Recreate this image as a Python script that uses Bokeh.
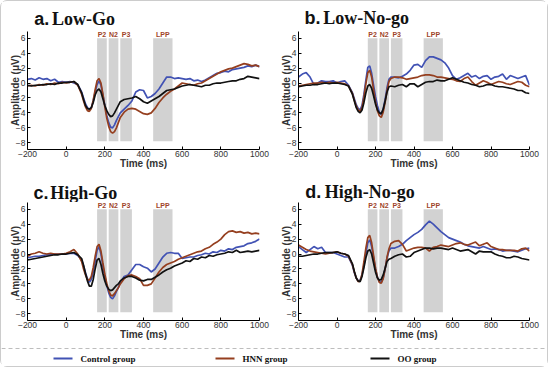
from bokeh.plotting import figure
from bokeh.models import ColumnDataSource, Range1d, FixedTicker, Span
from bokeh.layouts import column, row
from bokeh.embed import file_html
from bokeh.resources import INLINE
from bokeh.core.properties import value

# ---------------- data ----------------
time_ms = [-200, -180, -160, -140, -120, -100, -80, -60, -40, -20, 0, 20, 40, 60, 80,
           90, 100, 110, 120, 130, 140, 150, 160, 170, 180, 190, 200, 210, 220, 230, 240, 250, 260, 270, 280,
           300, 320, 340, 360, 380, 400, 420, 440, 460, 480,
           500, 520, 540, 560, 580, 600, 620, 640, 660, 680,
           700, 720, 740, 760, 780, 800, 820, 840, 860, 880,
           900, 920, 940, 960, 980, 1000]

groups = ["Control group", "HNN group", "OO group"]

# a. Low-Go
a_control = [0.5, 0.6, 0.4, 0.7, 0.5, 0.6, 0.3, 0.5, 0.1, 0.2, 0.1, 0.2, 0.0, -0.2, -1.2,
             -2.0, -2.8, -3.3, -3.5, -3.3, -2.4, -1.2, -0.2, 0.3, -0.3, -1.6, -3.0, -4.3, -5.3, -5.9, -6.0, -5.6, -5.0, -4.5, -4.0,
             -3.5, -3.0, -2.4, -1.2, -0.9, -1.0, -2.0, -1.8, -1.4, -0.8,
             0.0, 0.8, 0.8, 0.6, 0.7, 0.6, 0.5, 0.6, 0.3, 0.4,
             0.2, 0.4, 0.7, 1.0, 1.3, 1.4, 1.6, 1.5, 1.8, 1.9,
             2.0, 2.1, 2.3, 2.2, 2.4, 2.2]
a_hnn = [-0.4, -0.3, -0.4, -0.2, -0.3, -0.1, -0.2, 0.0, -0.1, 0.1, 0.0, 0.1, 0.2, -0.3, -1.5,
         -2.4, -3.2, -3.7, -3.8, -3.4, -2.3, -0.9, 0.3, 0.6, 0.0, -1.5, -3.2, -4.7, -5.8, -6.5, -6.7, -6.5, -6.0, -5.3, -4.6,
         -3.9, -3.5, -3.4, -3.5, -3.8, -4.1, -4.2, -4.0, -3.4, -2.6,
         -2.0, -1.5, -1.1, -0.8, -0.4, 0.0, -0.1, -0.2, -0.3, -0.1,
         0.0, 0.3, 0.6, 0.9, 1.2, 1.5, 1.7, 1.9, 2.0, 2.2,
         2.4, 2.6, 2.5, 2.3, 2.4, 2.2]
a_oo = [-0.3, -0.4, -0.3, -0.3, -0.2, -0.2, -0.1, -0.2, 0.0, 0.0, 0.1, 0.1, 0.2, -0.2, -1.3,
        -2.2, -3.0, -3.4, -3.5, -3.3, -2.6, -1.6, -1.0, -0.8, -1.2, -2.1, -3.0, -3.7, -4.2, -4.5, -4.4, -4.0, -3.5, -3.0, -2.5,
        -2.2, -2.1, -2.0, -1.8, -2.1, -2.5, -2.7, -2.4, -2.1, -1.8,
        -1.4, -1.0, -0.9, -0.8, -0.6, -0.4, -0.3, -0.2, -0.3, -0.4,
        -0.5, -0.3, -0.3, -0.1, 0.0, 0.0, 0.1, 0.2, 0.3, 0.3,
        0.5, 0.6, 0.9, 0.8, 0.7, 0.6]

# b. Low-No-go
b_control = [0.8, 1.2, 1.4, 0.8, -0.2, 0.0, 0.3, 0.2, 0.2, 0.3, 0.0, 0.2, 0.3, -0.3, -1.3,
             -2.1, -2.9, -3.4, -3.6, -3.0, -1.5, 0.4, 2.1, 2.3, 1.3, -0.3, -1.8, -3.0, -3.9, -4.2, -3.5, -2.2, -0.6, 0.5, 0.8,
             0.8, 0.7, 0.9, 1.2, 1.7, 2.4, 2.5, 2.1, 3.0, 3.5,
             3.5, 3.3, 3.1, 2.7, 2.0, 1.0, 0.5, 0.7, 1.0, 1.3,
             0.8, 1.0, 0.6, 0.9, 1.0, 0.5, 0.8, 0.9, 1.2, 0.5,
             1.0, 0.8, 0.6, 0.8, 1.0, -0.3]
b_hnn = [-0.4, -0.3, -0.2, -0.1, 0.0, 0.0, 0.1, 0.0, 0.1, 0.0, 0.1, 0.0, -0.1, -0.4, -1.4,
         -2.3, -3.1, -3.6, -3.8, -3.3, -1.9, -0.1, 1.4, 1.7, 0.8, -0.9, -2.5, -3.7, -4.4, -4.6, -3.9, -2.6, -1.0, 0.2, 0.6,
         0.8, 0.8, 0.7, 0.5, 0.6, 0.7, 0.8, 1.0, 1.1, 1.1,
         1.0, 0.8, 0.8, 0.7, 0.6, 0.5, 0.3, 0.2, 0.6, 0.8,
         0.2, -0.3, 0.0, 0.3, 0.1, -0.2, 0.0, 0.2, 0.1, -0.1,
         -0.2, 0.0, 0.2, 0.1, -0.3, -0.5]
b_oo = [-0.5, -0.4, -0.3, -0.3, -0.2, -0.2, -0.1, 0.0, -0.1, 0.0, 0.0, -0.1, -0.2, -0.4, -1.5,
        -2.4, -3.3, -3.8, -4.0, -3.6, -2.6, -1.3, -0.4, -0.2, -0.7, -1.7, -2.8, -3.6, -4.0, -4.1, -3.5, -2.4, -1.2, -0.5, -0.4,
        -0.5, -0.3, -0.2, -0.5, -0.1, -0.1, -0.5, -0.2, 0.1, 0.2,
        0.2, 0.4, 0.3, 0.3, 0.5, 0.7, 0.5, 0.3, 0.1, 0.0,
        -0.2, -0.3, -0.5, -0.4, -0.2, -0.2, -0.4, -0.5, -0.5, -0.6,
        -0.7, -0.8, -1.0, -1.0, -1.3, -1.4]

# c. High-Go
c_control = [-0.5, -0.4, -0.3, -0.3, -0.2, -0.1, -0.1, 0.0, 0.0, 0.0, 0.0, 0.1, 0.1, -0.2, -0.8,
             -1.6, -2.5, -3.3, -3.8, -3.4, -2.4, -1.0, 0.5, 1.0, 0.0, -1.6, -3.0, -4.2, -5.2, -5.8, -6.0, -5.6, -5.0, -4.5, -3.8,
             -3.0, -2.8, -2.1, -1.4, -1.4, -1.7, -1.9, -2.4, -2.0, -1.2,
             -0.4, 0.1, 0.2, 0.1, 0.1, -0.6, -0.5, -0.4, -0.4, -0.2,
             -0.1, 0.1, 0.0, 0.3, 0.2, 0.5, 0.4, 0.7, 0.6, 0.9,
             1.0, 1.1, 1.4, 1.5, 1.7, 2.0]
c_hnn = [-0.3, 0.0, 0.1, 0.3, 0.1, 0.0, 0.1, 0.0, 0.0, 0.0, 0.1, 0.3, 0.6, 0.0, -1.0,
         -2.0, -2.8, -3.4, -3.5, -3.0, -1.8, -0.3, 1.0, 1.3, 0.4, -1.2, -2.7, -3.9, -4.9, -5.5, -5.6, -5.3, -4.9, -4.5, -4.0,
         -3.3, -2.9, -2.8, -3.0, -3.3, -4.2, -4.2, -4.0, -3.2, -2.4,
         -1.8, -1.4, -1.2, -1.0, -0.7, -0.5, -0.3, -0.1, 0.1, 0.3,
         0.4, 0.7, 0.9, 1.3, 1.6, 2.0, 2.6, 3.0, 3.1, 2.9,
         3.0, 2.8, 2.9, 2.7, 2.8, 2.7]
c_oo = [-0.8, -0.7, -0.6, -0.5, -0.4, -0.3, -0.2, -0.1, -0.1, 0.0, 0.0, 0.1, 0.2, -0.1, -0.6,
        -1.5, -2.6, -3.6, -4.3, -4.3, -3.4, -2.0, -0.8, -0.6, -1.4, -2.6, -3.6, -4.3, -4.7, -4.9, -4.8, -4.5, -4.2, -4.0, -3.6,
        -3.2, -3.0, -3.0, -3.2, -3.5, -3.6, -3.4, -3.4, -3.1, -2.8,
        -2.4, -2.1, -1.9, -1.6, -1.4, -1.2, -0.9, -1.0, -0.6, -0.7,
        -0.4, -0.5, -0.2, -0.3, -0.1, 0.0, 0.1, 0.3, 0.2, 0.5,
        0.2, 0.3, 0.4, 0.3, 0.4, 0.5]

# d. High-No-go
d_control = [1.0, 0.6, 0.2, 0.6, 1.0, 0.7, 0.9, 0.2, 0.2, 0.2, 0.0, -0.2, -0.4, -0.4, -1.5,
             -2.5, -3.2, -3.6, -3.5, -2.8, -1.5, 0.0, 1.5, 1.9, 1.0, -0.5, -2.0, -3.1, -3.7, -3.8, -3.2, -2.0, -0.5, 0.4, 0.8,
             0.8, 1.0, 1.3, 1.8, 2.2, 2.6, 2.9, 3.3, 3.9, 4.4,
             4.0, 3.5, 3.0, 2.6, 2.2, 2.0, 1.8, 1.6, 1.3, 1.1,
             1.0, 0.9, 0.8, 1.0, 0.8, 0.6, 0.7, 0.6, 0.4, 0.5,
             0.5, 0.4, 0.3, 0.5, 0.7, 0.8]
d_hnn = [1.2, 0.9, 0.6, 0.4, 0.3, 0.2, 0.1, 0.0, 0.1, 0.2, 0.3, 0.1, 0.0, -0.3, -1.4,
         -2.4, -3.2, -3.7, -3.6, -2.7, -1.0, 0.8, 2.2, 2.5, 1.5, -0.2, -1.9, -3.1, -3.8, -3.9, -3.3, -2.0, -0.4, 0.7, 1.4,
         1.7, 1.8, 1.3, 0.4, 0.6, 0.8, 0.9, 0.9, 0.8, 0.4,
         0.9, 1.0, 1.2, 1.1, 1.0, 1.2, 1.4, 1.5, 1.3, 1.2,
         1.4, 1.6, 1.1, 1.3, 1.5, 1.0, 0.8, 0.6, 0.6, 0.5,
         0.5, 0.5, 0.4, 0.7, 0.8, 0.4]
d_oo = [-0.3, -0.3, -0.2, -0.1, 0.0, 0.0, 0.1, 0.2, 0.2, 0.2, 0.3, 0.1, 0.0, -0.2, -1.3,
        -2.3, -3.2, -3.6, -3.7, -3.0, -1.8, -0.5, 0.4, 0.6, 0.0, -1.2, -2.4, -3.2, -3.5, -3.4, -2.8, -1.9, -1.0, -0.7, -0.6,
        -0.3, -0.1, 0.0, -0.4, -0.3, 0.2, 0.4, 0.6, 0.8, 0.8,
        0.7, 0.8, 0.8, 0.7, 0.6, 0.8, 0.6, 0.4, 0.5, 0.6,
        0.3, 0.0, 0.4, 0.3, 0.3, 0.3, 0.0, -0.2, -0.3, -0.5,
        -0.5, -0.3, -0.4, -0.6, -0.7, -0.8]

comp_names = ["P2", "N2", "P3", "LPP"]
comp_start = [160, 220, 280, 450]
comp_end = [210, 270, 340, 550]
comp_top = [6.0, 6.0, 6.0, 6.0]
comp_bottom = [-7.8, -7.8, -7.8, -7.8]

x_ticks = [-200, 0, 200, 400, 600, 800, 1000]
y_ticks = [-8, -6, -4, -2, 0, 2, 4, 6]

# ---------------- style ----------------
COLORS = ["#4152b4", "#953f1f", "#111111"]
SANS = "Liberation Sans"
SERIF = "Liberation Serif"
PLOT_H = 143

comp_src = ColumnDataSource(dict(name=comp_names, left=comp_start, right=comp_end,
                                 top=comp_top, bottom=comp_bottom,
                                 mid=[(a + b) / 2 for a, b in zip(comp_start, comp_end)]))


def bare_fig(w, h):
    f = figure(width=w, height=h, output_backend="svg", toolbar_location=None,
               x_range=Range1d(0, w), y_range=Range1d(0, h), min_border=0,
               x_axis_location=None, y_axis_location=None)
    f.outline_line_color = None
    f.grid.visible = False
    return f


def title_fig(letter, name, w, h, x1, x2, yb):
    t = bare_fig(w, h)
    t.text(x=[x1], y=[yb], text=[letter], text_font=value(SANS), text_font_style="bold",
           text_font_size="18px", text_color="#111111", text_baseline="alphabetic")
    t.text(x=[x2], y=[yb], text=[name], text_font=value(SERIF), text_font_style="bold",
           text_font_size="18px", text_color="#111111", text_baseline="alphabetic")
    return t


def make_panel(series, w, bl, br):
    p = figure(width=w, height=PLOT_H, output_backend="svg", toolbar_location=None,
               x_range=Range1d(-200, 1000), y_range=Range1d(-8.9, 6.9),
               min_border_left=bl, min_border_right=br, min_border_top=0, min_border_bottom=25)
    p.outline_line_color = None
    p.grid.visible = False

    p.quad(left="left", right="right", top="top", bottom="bottom", source=comp_src,
           fill_color="#d2d2d2", line_color=None)
    p.text(x="mid", y="top", text="name", source=comp_src, text_align="center",
           text_baseline="bottom", text_font_size="7px", text_font_style="bold",
           text_color="#a0452a", text_font=value(SANS))

    src = ColumnDataSource(dict(t=time_ms, c=series[0], h=series[1], o=series[2]))
    for key, col in zip(["c", "h", "o"], COLORS):
        p.line(x="t", y=key, source=src, line_color=col, line_width=1.7)

    for ax in (p.xaxis[0], p.yaxis[0]):
        ax.axis_line_color = "black"
        ax.axis_line_width = 1
        ax.major_tick_in = 3
        ax.major_tick_out = 0
        ax.minor_tick_line_color = None
        ax.major_tick_line_color = "black"
        ax.major_label_text_font = SANS
        ax.major_label_text_font_size = "8.5px"
        ax.major_label_text_color = "#333333"
        ax.axis_label_text_font = SANS
        ax.axis_label_text_font_style = "bold"
        ax.axis_label_text_color = "#333333"
        ax.axis_label_text_font_size = "10px"
    p.xaxis.ticker = FixedTicker(ticks=x_ticks)
    p.yaxis.ticker = FixedTicker(ticks=y_ticks)
    p.xaxis.major_label_standoff = 1
    p.xaxis.axis_label_standoff = -2
    p.yaxis.major_label_standoff = 2
    p.yaxis.axis_label_standoff = -8
    p.xaxis.axis_label = "Time (ms)"
    p.yaxis.axis_label = "Amplitude (\u03bcV)"
    return p


# left column starts at page x=1, right column at x=275
ta = title_fig("a.", "Low-Go", 274, 30, 8, 29, 13)
tb = title_fig("b.", "Low-No-go", 272, 30, 7, 29, 14)
tc = title_fig("c.", "High-Go", 274, 28, 7, 27, 10)
td = title_fig("d.", "High-No-go", 272, 28, 8, 31, 11)

pa = make_panel([a_control, a_hnn, a_oo], 274, 26, 16)
pb = make_panel([b_control, b_hnn, b_oo], 272, 23, 18)
pc = make_panel([c_control, c_hnn, c_oo], 274, 26, 16)
pd = make_panel([d_control, d_hnn, d_oo], 272, 23, 18)

# legend strip
LEG_W, LEG_H = 546, 21
lg = bare_fig(LEG_W, LEG_H)
lg.add_layout(Span(location=18, dimension="width", line_color="#bdbdbd",
                   line_dash="4 3", line_width=1))
leg_line_x0 = [52, 214, 369]
leg_src = ColumnDataSource(dict(x0=leg_line_x0, x1=[v + 19 for v in leg_line_x0],
                                tx=[v + 27 for v in leg_line_x0], y=[8, 8, 8],
                                label=groups, color=COLORS))
lg.segment(x0="x0", x1="x1", y0="y", y1="y", line_color="color", line_width=2.2, source=leg_src)
lg.text(x="tx", y="y", text="label", source=leg_src, text_font=value(SERIF),
        text_font_style="bold", text_font_size="9px", text_color="#111111",
        text_baseline="middle")

root = column(row(column(ta, pa), column(tb, pb)),
              row(column(tc, pc), column(td, pd)),
              lg, margin=(0, 0, 0, 0),
              styles={"border": "1px solid #cccccc", "border-radius": "7px"})

open("out.html", "w").write(file_html(root, INLINE))
